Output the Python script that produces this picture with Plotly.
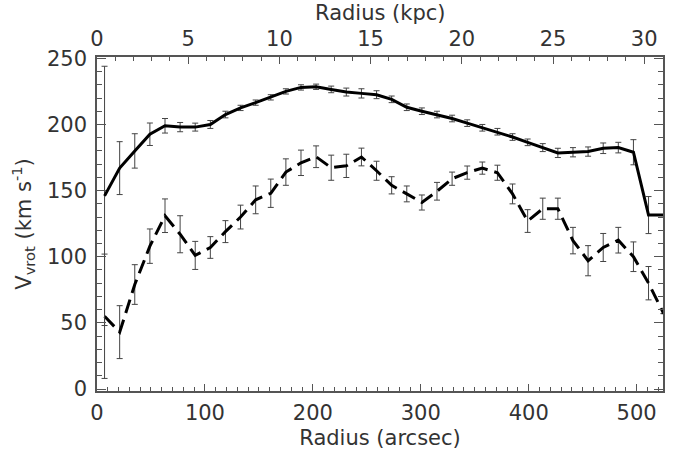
import plotly.graph_objects as go

# Radius sampling (arcsec)
radius_arcsec = [7, 21, 35, 49, 63, 77, 91, 105, 119, 133, 147, 161, 175, 189, 203, 217, 231, 245,
                 259, 273, 287, 301, 315, 329, 343, 357, 371, 385, 399, 413, 427, 441, 455, 469,
                 483, 497, 511, 525]

# Solid curve
v_solid = [146, 167, 180, 192.6, 199, 198, 198, 200, 207.5, 212.5, 216.5, 220.5, 225, 228, 228.5,
           226.5, 224.5, 223.5, 222.5, 219, 213, 210, 207.5, 204.5, 201, 197.5, 194.5, 190.5,
           186.5, 182.5, 178.5, 179, 179.5, 182, 182.5, 179, 131.5, 131.5]
e_solid = [98, 20, 13, 8.5, 5.5, 3.5, 3, 3, 2.5, 2, 2, 2, 2, 2, 2, 2.5, 3, 3.5, 3, 2.5, 2.5, 2.5,
           2.5, 2.5, 2.5, 2.5, 2.5, 2.5, 2.5, 3, 3.5, 3.5, 3.5, 4, 4, 9.5, 14, 0]

# Dashed curve
v_dash = [55, 43, 79, 108, 131, 117, 101, 107, 119, 130, 143, 148, 164, 171, 175.6, 167.3, 168.7,
          175.4, 165, 154, 147.5, 141, 149.5, 159, 163.6, 167, 163.5, 147.5, 127, 136.3, 136.3,
          112.2, 97, 107, 112.5, 100, 80, 57]
e_dash = [47, 20, 15, 13, 12.7, 14, 10.6, 8.2, 8.3, 9, 10.5, 10.7, 10, 9.6, 8.2, 9.5, 8.8, 6.7,
          7.2, 6.5, 6, 5.7, 6.7, 5, 5, 4.6, 5.7, 7.5, 8.6, 8, 8, 10, 11.4, 10.6, 9.7, 11.2, 12.6, 0]

x_ticks = [0, 100, 200, 300, 400, 500]
kpc_ticks = [0, 5, 10, 15, 20, 25, 30]
y_ticks = [0, 50, 100, 150, 200, 250]

arcsec_per_kpc = 16.9
x_range = [0, 524.4]
kpc_range = [0, x_range[1] / arcsec_per_kpc]
y_range = [-1.5, 251]

font_main = dict(family="DejaVu Sans, Verdana, sans-serif", size=21, color="#333")
axcol = "#555"
errcol = "#444"

fig = go.Figure()
fig.add_trace(go.Scatter(
    x=radius_arcsec, y=v_dash, mode="lines",
    line=dict(color="black", width=3, dash="14px,7px"),
    error_y=dict(type="data", array=e_dash, visible=True, thickness=1, width=3, color=errcol),
    showlegend=False, hoverinfo="skip"))
fig.add_trace(go.Scatter(
    x=radius_arcsec, y=v_solid, mode="lines",
    line=dict(color="black", width=3),
    error_y=dict(type="data", array=e_solid, visible=True, thickness=1, width=3, color=errcol),
    showlegend=False, hoverinfo="skip"))
# dummy trace to activate the top kpc axis
fig.add_trace(go.Scatter(x=kpc_ticks, y=[None] * len(kpc_ticks), xaxis="x2", mode="markers",
                         marker=dict(opacity=0), showlegend=False, hoverinfo="skip"))

plot_top, plot_h = 57, 334

fig.update_layout(
    width=675, height=459,
    margin=dict(l=97, r=12, t=plot_top, b=68, autoexpand=False),
    paper_bgcolor="white", plot_bgcolor="white",
    font=font_main,
    hovermode=False,
    xaxis=dict(
        range=x_range, tickvals=x_ticks, ticktext=[str(t) for t in x_ticks],
        automargin=False,
        showgrid=False, zeroline=False, showline=True, linecolor=axcol, linewidth=1.5,
        ticks="inside", ticklen=7, tickwidth=1, tickcolor=axcol, ticklabelstandoff=2,
        minor=dict(ticks="inside", ticklen=4, dtick=10, tick0=0, tickcolor=axcol, showgrid=False),
        title=dict(text="Radius (arcsec)", font=font_main, standoff=6),
        tickfont=font_main,
    ),
    xaxis2=dict(
        overlaying="x", side="top", range=kpc_range, tickvals=kpc_ticks,
        ticktext=[str(t) for t in kpc_ticks],
        automargin=False,
        showgrid=False, zeroline=False, showline=True, linecolor=axcol, linewidth=1.5,
        ticks="inside", ticklen=7, tickwidth=1, tickcolor=axcol, ticklabelstandoff=1,
        minor=dict(ticks="inside", ticklen=4, dtick=1, tick0=0, tickcolor=axcol, showgrid=False),
        tickfont=font_main,
    ),
    yaxis=dict(
        range=y_range, tickvals=y_ticks, ticktext=[str(t) for t in y_ticks],
        automargin=False,
        showgrid=False, zeroline=False, showline=True, linecolor=axcol, linewidth=1.5,
        mirror="ticks",
        ticks="inside", ticklen=9, tickwidth=1, tickcolor=axcol, ticklabelstandoff=4,
        minor=dict(ticks="inside", ticklen=5, dtick=10, tick0=0, tickcolor=axcol, showgrid=False),
        title=dict(text="V<sub>vrot</sub> (km s<sup>-1</sup>)", font=font_main, standoff=10),
        tickfont=font_main,
    ),
    annotations=[dict(
        text="Radius (kpc)", xref="paper", yref="paper", x=0.5,
        y=1 + (plot_top - 13) / plot_h,
        xanchor="center", yanchor="middle", showarrow=False, font=font_main,
    )],
)

fig.write_html("out.html", config={"displayModeBar": False},
               post_script="document.body.style.margin='0px';")
